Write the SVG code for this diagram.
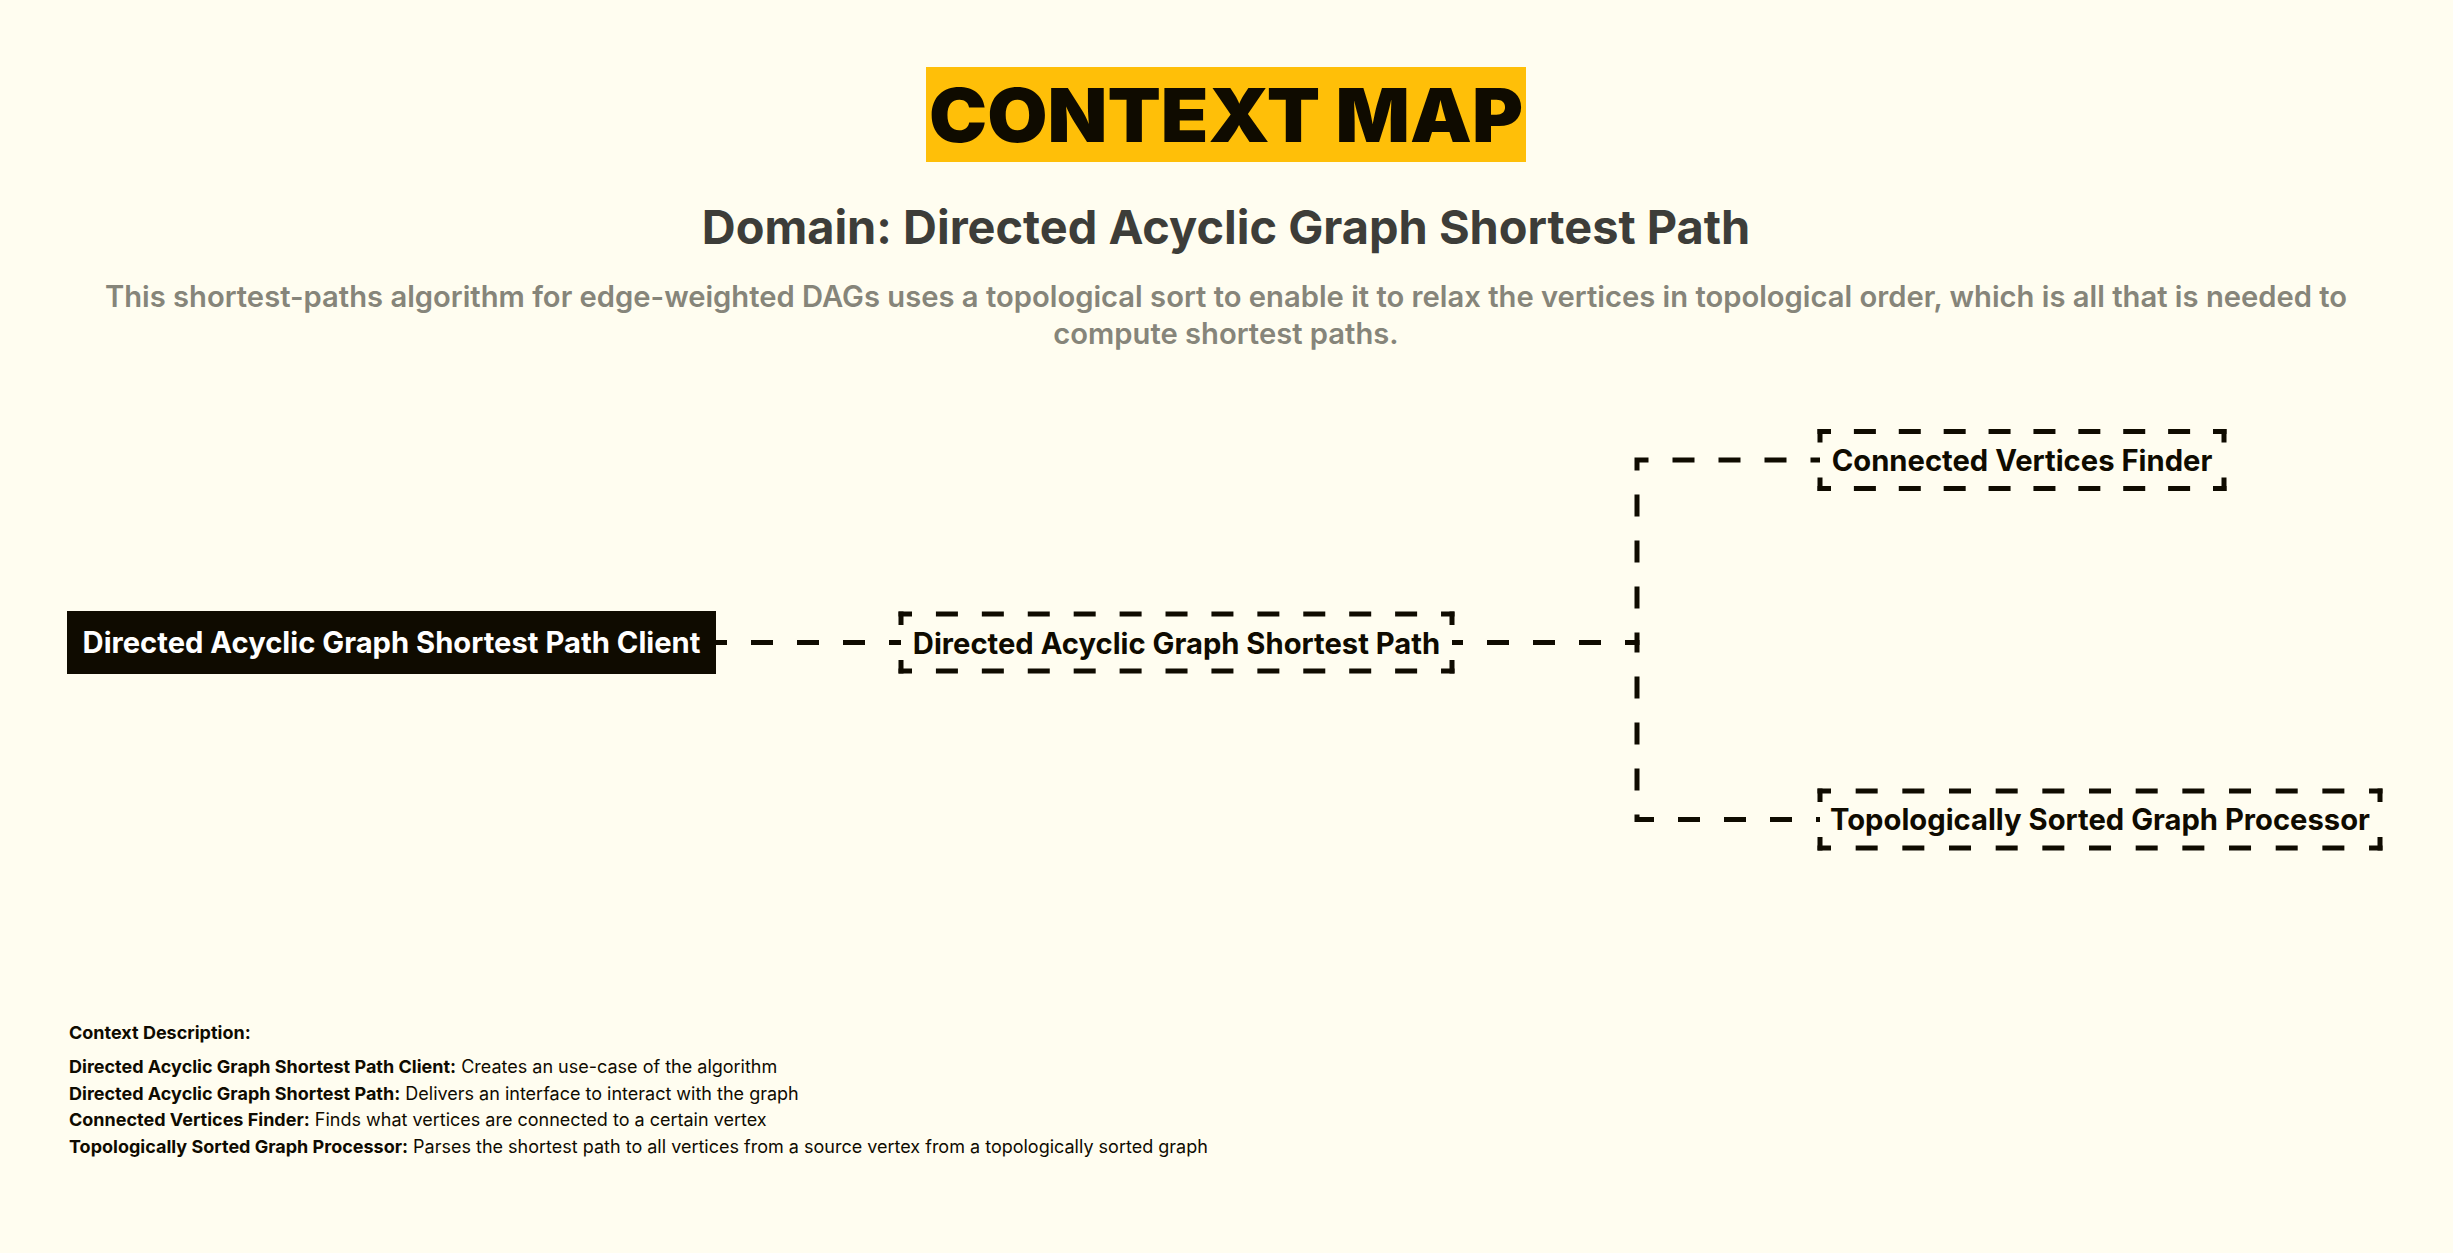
<svg xmlns="http://www.w3.org/2000/svg" width="2453" height="1253" viewBox="0 0 2453 1253">
<style>
text{font-family:"Inter","Liberation Sans",sans-serif}
.title{font-size:74px;font-weight:900;fill:#0f0b00}
.sub{font-size:46.9px;font-weight:700;fill:#3d3d39}
.desc{font-size:29.2px;font-weight:600;fill:#86857a}
.node{font-size:29.2px;font-weight:700;fill:#0f0b00}
.nodew{font-size:29.2px;font-weight:700;fill:#ffffff}
.legend{font-size:18px;font-weight:400;fill:#0f0b00}
.b{font-weight:700}
.side{stroke:#0f0b00;stroke-width:5;fill:none;stroke-dashoffset:8.5}
.conn{stroke:#0f0b00;stroke-width:5;fill:none;stroke-dasharray:22 24;stroke-dashoffset:11}
</style>
<rect width="2453" height="1253" fill="#fffdf0"/>
<g id="title">
<rect x="926" y="67" width="600" height="95" fill="#ffbf08"/>
<text class="title" x="1226" y="142" text-anchor="middle" textLength="594" lengthAdjust="spacingAndGlyphs">CONTEXT MAP</text>
</g>
<text class="sub" x="1226" y="243.5" text-anchor="middle">Domain: Directed Acyclic Graph Shortest Path</text>
<text class="desc" x="1226" y="307" text-anchor="middle">This shortest-paths algorithm for edge-weighted DAGs uses a topological sort to enable it to relax the vertices in topological order, which is all that is needed to</text>
<text class="desc" x="1226" y="344" text-anchor="middle">compute shortest paths.</text>
<g id="connectors">
<path class="conn" d="M716 642.5 H901"/>
<path class="conn" d="M1452 642.5 H1637 V460 H1820"/>
<path class="conn" d="M1452 642.5 H1637 V819.5 H1820"/>
</g>
<g id="node-client">
<rect x="67" y="611" width="649" height="63" fill="#0f0b00"/>
<text class="nodew" x="391.5" y="653" text-anchor="middle">Directed Acyclic Graph Shortest Path Client</text>
</g>
<g id="node-shortest-path">
<line class="side" x1="898.5" y1="614" x2="1454.5" y2="614" stroke-dasharray="22 23.92"/>
<line class="side" x1="898.5" y1="671" x2="1454.5" y2="671" stroke-dasharray="22 23.92"/>
<line class="side" x1="901" y1="611.5" x2="901" y2="673.5" stroke-dasharray="22 35"/>
<line class="side" x1="1452" y1="611.5" x2="1452" y2="673.5" stroke-dasharray="22 35"/>
<text class="node" x="1176.5" y="653.5" text-anchor="middle">Directed Acyclic Graph Shortest Path</text>
</g>
<g id="node-connected-vertices-finder">
<line class="side" x1="1817.5" y1="431.5" x2="2226.5" y2="431.5" stroke-dasharray="22 22.89"/>
<line class="side" x1="1817.5" y1="488.5" x2="2226.5" y2="488.5" stroke-dasharray="22 22.89"/>
<line class="side" x1="1820" y1="429" x2="1820" y2="491" stroke-dasharray="22 35"/>
<line class="side" x1="2224" y1="429" x2="2224" y2="491" stroke-dasharray="22 35"/>
<text class="node" x="2022" y="471" text-anchor="middle">Connected Vertices Finder</text>
</g>
<g id="node-topologically-sorted-graph-processor">
<line class="side" x1="1817.5" y1="791" x2="2382.5" y2="791" stroke-dasharray="22 24.67"/>
<line class="side" x1="1817.5" y1="848" x2="2382.5" y2="848" stroke-dasharray="22 24.67"/>
<line class="side" x1="1820" y1="788.5" x2="1820" y2="850.5" stroke-dasharray="22 35"/>
<line class="side" x1="2380" y1="788.5" x2="2380" y2="850.5" stroke-dasharray="22 35"/>
<text class="node" x="2100" y="830" text-anchor="middle">Topologically Sorted Graph Processor</text>
</g>
<g id="legend">
<text class="legend b" x="69" y="1039">Context Description:</text>
<text class="legend" x="69" y="1073"><tspan class="b">Directed Acyclic Graph Shortest Path Client:</tspan> Creates an use-case of the algorithm</text>
<text class="legend" x="69" y="1100"><tspan class="b">Directed Acyclic Graph Shortest Path:</tspan> Delivers an interface to interact with the graph</text>
<text class="legend" x="69" y="1126"><tspan class="b">Connected Vertices Finder:</tspan> Finds what vertices are connected to a certain vertex</text>
<text class="legend" x="69" y="1153"><tspan class="b">Topologically Sorted Graph Processor:</tspan> Parses the shortest path to all vertices from a source vertex from a topologically sorted graph</text>
</g>
</svg>
